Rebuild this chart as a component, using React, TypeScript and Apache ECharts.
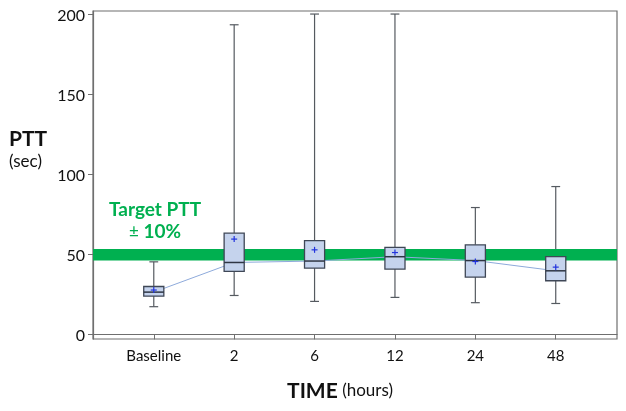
import React, { useEffect, useRef } from "react";
import * as echarts from "echarts";

const categories = ["Baseline", "2", "6", "12", "24", "48"];
const positions = [1, 2, 3, 4, 5, 6];
const whiskerLow = [17.3, 24.3, 20.6, 23.1, 19.8, 19.3];
const q1 = [23.9, 39.3, 41.4, 40.8, 35.8, 33.5];
const median = [26.4, 44.9, 45.8, 48.5, 46.1, 39.7];
const q3 = [29.9, 63.2, 58.6, 54.3, 55.9, 48.6];
const whiskerHigh = [45.3, 193.3, 200, 200, 79.2, 92.3];
const mean = [27.7, 59.5, 52.8, 51.1, 45.5, 42.0];
const targetBand = [46.2, 53.3];
const yTicks = [0, 50, 100, 150, 200];

const FONT = "Lato, 'Open Sans', sans-serif";

export default function App() {
  const ref = useRef<HTMLDivElement>(null);
  useEffect(() => {
    if (!ref.current) return;
    const chart = echarts.init(ref.current, null, { renderer: "svg" });
    const rows = positions.map((p, i) => [p, whiskerLow[i], q1[i], median[i], q3[i], whiskerHigh[i], mean[i]]);
    const boxW = 0.25;
    const capW = 0.11;

    const whiskerRender = (params: any, api: any) => {
      const x = api.value(0);
      const lo = api.coord([x, api.value(1)]);
      const b1 = api.coord([x, api.value(2)]);
      const b3 = api.coord([x, api.value(4)]);
      const hi = api.coord([x, api.value(5)]);
      const cw = api.size([capW, 0])[0];
      const st = { stroke: "#555a60", lineWidth: 1.2 };
      return {
        type: "group",
        children: [
          { type: "line", shape: { x1: lo[0], y1: lo[1], x2: b1[0], y2: b1[1] }, style: st },
          { type: "line", shape: { x1: hi[0], y1: hi[1], x2: b3[0], y2: b3[1] }, style: st },
          { type: "line", shape: { x1: lo[0] - cw / 2, y1: lo[1], x2: lo[0] + cw / 2, y2: lo[1] }, style: st },
          { type: "line", shape: { x1: hi[0] - cw / 2, y1: hi[1], x2: hi[0] + cw / 2, y2: hi[1] }, style: st },
        ],
      };
    };

    const boxRender = (params: any, api: any) => {
      const x = api.value(0);
      const b1 = api.coord([x, api.value(2)]);
      const md = api.coord([x, api.value(3)]);
      const b3 = api.coord([x, api.value(4)]);
      const mn = api.coord([x, api.value(6)]);
      const bw = api.size([boxW, 0])[0];
      const ps = 3;
      return {
        type: "group",
        children: [
          {
            type: "rect",
            shape: { x: b3[0] - bw / 2, y: b3[1], width: bw, height: b1[1] - b3[1] },
            style: { fill: "#c5d3ed", stroke: "#3f4756", lineWidth: 1.3 },
          },
          {
            type: "line",
            shape: { x1: md[0] - bw / 2, y1: md[1], x2: md[0] + bw / 2, y2: md[1] },
            style: { stroke: "#2f3644", lineWidth: 1.5 },
          },
          { type: "line", shape: { x1: mn[0] - ps, y1: mn[1], x2: mn[0] + ps, y2: mn[1] }, style: { stroke: "#2233dd", lineWidth: 1.2 } },
          { type: "line", shape: { x1: mn[0], y1: mn[1] - ps, x2: mn[0], y2: mn[1] + ps }, style: { stroke: "#2233dd", lineWidth: 1.2 } },
        ],
      };
    };

    const bandRender = (params: any, api: any) => {
      const cs = params.coordSys;
      const top = api.coord([1, api.value(1)])[1];
      const bot = api.coord([1, api.value(0)])[1];
      return {
        type: "rect",
        shape: { x: cs.x, y: top, width: cs.width, height: bot - top },
        style: { fill: "#00b050" },
      };
    };

    chart.setOption({
      animation: false,
      grid: { left: 93, right: 9, top: 11, bottom: 72, show: true, borderColor: "#6f6f6f", borderWidth: 1.2, backgroundColor: "#fff" },
      xAxis: {
        type: "value",
        min: 0.244,
        max: 6.762,
        axisLine: { show: true, lineStyle: { color: "#6f6f6f", width: 1.2 } },
        axisTick: { show: true, length: 5, customValues: positions, lineStyle: { color: "#6f6f6f" } },
        axisLabel: {
          customValues: positions,
          formatter: (v: number) => categories[Math.round(v) - 1] ?? "",
          fontFamily: FONT,
          fontSize: 15,
          color: "#111",
          margin: 8,
        },
        splitLine: { show: false },
      },
      yAxis: {
        type: "value",
        min: -2.87,
        max: 201.9,
        axisLine: { show: true, lineStyle: { color: "#6f6f6f", width: 1.2 } },
        axisTick: { show: true, length: 5, customValues: yTicks, lineStyle: { color: "#6f6f6f" } },
        axisLabel: { customValues: yTicks, fontFamily: FONT, fontSize: 16, color: "#111", margin: 8 },
        splitLine: { show: false },
      },
      series: [
        {
          type: "custom",
          name: "whiskers",
          z: 1,
          renderItem: whiskerRender,
          encode: { x: 0, y: [1, 2, 3, 4, 5] },
          data: rows,
          silent: true,
        },
        {
          type: "custom",
          name: "target",
          z: 2,
          renderItem: bandRender,
          encode: { y: [0, 1] },
          data: [targetBand],
          silent: true,
        },
        {
          type: "line",
          name: "median",
          z: 3,
          data: positions.map((p, i) => [p, median[i]]),
          symbol: "none",
          lineStyle: { color: "#8eaadb", width: 1 },
          silent: true,
        },
        {
          type: "custom",
          name: "boxes",
          z: 4,
          renderItem: boxRender,
          encode: { x: 0, y: [2, 3, 4, 6] },
          data: rows,
          silent: true,
        },
      ],
      graphic: [
        { type: "text", left: 9, top: 127, style: { text: "PTT", font: `bold 21px ${FONT}`, fill: "#111" } },
        { type: "text", left: 9, top: 152, style: { text: "(sec)", font: `17px ${FONT}`, fill: "#111" } },
        {
          type: "text",
          x: 340,
          y: 389,
          style: {
            text: "{b|TIME}{n| (hours)}",
            align: "center",
            verticalAlign: "middle",
            rich: {
              b: { fontFamily: FONT, fontWeight: "bold", fontSize: 21, fill: "#111" },
              n: { fontFamily: FONT, fontSize: 17, fill: "#111" },
            },
          },
        },
        {
          type: "text",
          x: 155,
          y: 219,
          z: 10,
          style: {
            text: "{a|Target PTT}\n{p|±}{b| 10%}",
            align: "center",
            verticalAlign: "middle",
            rich: {
              a: { fontFamily: FONT, fontWeight: "bold", fontSize: 19, fill: "#00b050", lineHeight: 22, align: "center" },
              p: { fontFamily: FONT, fontSize: 17, fill: "#00b050", lineHeight: 22 },
              b: { fontFamily: FONT, fontWeight: "bold", fontSize: 19, fill: "#00b050", lineHeight: 22 },
            },
          },
        },
      ],
    });
    return () => chart.dispose();
  }, []);
  return <div ref={ref} style={{ position: "fixed", left: 0, top: 0, width: 626, height: 411 }} />;
}
